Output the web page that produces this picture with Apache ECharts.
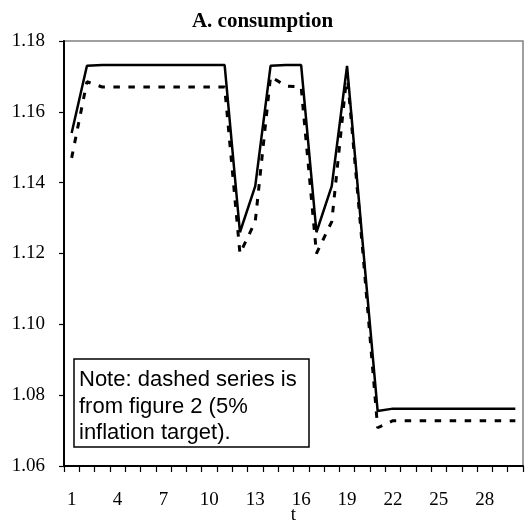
<!DOCTYPE html>
<html>
<head>
<meta charset="utf-8">
<script src="https://cdn.jsdelivr.net/npm/echarts@6/dist/echarts.min.js"></script>
<style>
html,body{margin:0;padding:0;background:#fff;}
#main{width:525px;height:528px;}
</style>
</head>
<body>
<div id="main"></div>
<script>
var categories = ['1','2','3','4','5','6','7','8','9','10','11','12','13','14','15','16','17','18','19','20','21','22','23','24','25','26','27','28','29','30'];
var solidSeries = [1.154, 1.173, 1.1732, 1.1732, 1.1732, 1.1732, 1.1732, 1.1732, 1.1732, 1.1732, 1.1732,
  1.126, 1.139, 1.173, 1.1732, 1.1732, 1.126, 1.139, 1.173, 1.124, 1.0755,
  1.0762, 1.0762, 1.0762, 1.0762, 1.0762, 1.0762, 1.0762, 1.0762, 1.0762];
var dashedSeries = [1.147, 1.1685, 1.167, 1.167, 1.167, 1.167, 1.167, 1.167, 1.167, 1.167, 1.167,
  1.120, 1.129, 1.170, 1.1673, 1.167, 1.120, 1.129, 1.171, 1.122, 1.0708,
  1.0728, 1.0728, 1.0728, 1.0728, 1.0728, 1.0728, 1.0728, 1.0728, 1.0728];
var yTicks = [1.06, 1.08, 1.10, 1.12, 1.14, 1.16, 1.18];
var titleText = 'A. consumption';
var noteText = 'Note: dashed series is\nfrom figure 2 (5%\ninflation target).';

var chart = echarts.init(document.getElementById('main'), null, {renderer: 'canvas'});
var serif = '"Liberation Serif","Times New Roman",serif';
chart.setOption({
  animation: false,
  backgroundColor: '#fff',
  title: {
    text: titleText,
    left: 'center',
    top: 6,
    textStyle: {fontFamily: serif, fontWeight: 'bold', fontSize: 21, color: '#000'}
  },
  grid: {
    left: 64, right: 2, top: 41, bottom: 62,
    containLabel: false,
    outerBoundsMode: 'none',
    show: true, borderColor: '#808080', borderWidth: 1.5, backgroundColor: 'transparent'
  },
  xAxis: {
    type: 'category',
    data: categories,
    boundaryGap: true,
    name: 't',
    nameLocation: 'middle',
    nameGap: 40,
    nameMoveOverlap: false,
    nameTextStyle: {fontFamily: serif, fontSize: 19, color: '#000', verticalAlign: 'top'},
    axisLine: {lineStyle: {color: '#000', width: 2}},
    axisTick: {show: true, interval: 0, length: 6, lineStyle: {color: '#000', width: 1.2}},
    axisLabel: {interval: 2, margin: 25, fontFamily: serif, fontSize: 19, color: '#000'},
    splitLine: {show: false}
  },
  yAxis: {
    type: 'value',
    min: yTicks[0],
    max: yTicks[yTicks.length - 1],
    interval: 0.02,
    axisLine: {show: true, lineStyle: {color: '#000', width: 2}},
    axisTick: {show: true, length: 5, lineStyle: {color: '#000', width: 1.2}},
    axisLabel: {margin: 19, fontFamily: serif, fontSize: 19, color: '#000',
      formatter: function (v) { return v.toFixed(2); }},
    splitLine: {show: false}
  },
  series: [
    {
      type: 'line', data: solidSeries, showSymbol: false, symbol: 'none',
      lineStyle: {color: '#000', width: 2.5, type: 'solid'}
    },
    {
      type: 'line', data: dashedSeries, showSymbol: false, symbol: 'none',
      lineStyle: {color: '#000', width: 3, type: [6.5, 8.5]}
    }
  ],
  graphic: [
    {
      type: 'rect',
      shape: {x: 74, y: 359, width: 235, height: 88},
      style: {fill: '#fff', stroke: '#000', lineWidth: 1.5},
      z: 100
    },
    {
      type: 'text',
      x: 79, y: 367,
      style: {
        text: noteText,
        fontFamily: '"Liberation Sans",Arial,sans-serif',
        fontSize: 22,
        lineHeight: 26.5,
        fill: '#000'
      },
      z: 101
    }
  ]
});
</script>
</body>
</html>
